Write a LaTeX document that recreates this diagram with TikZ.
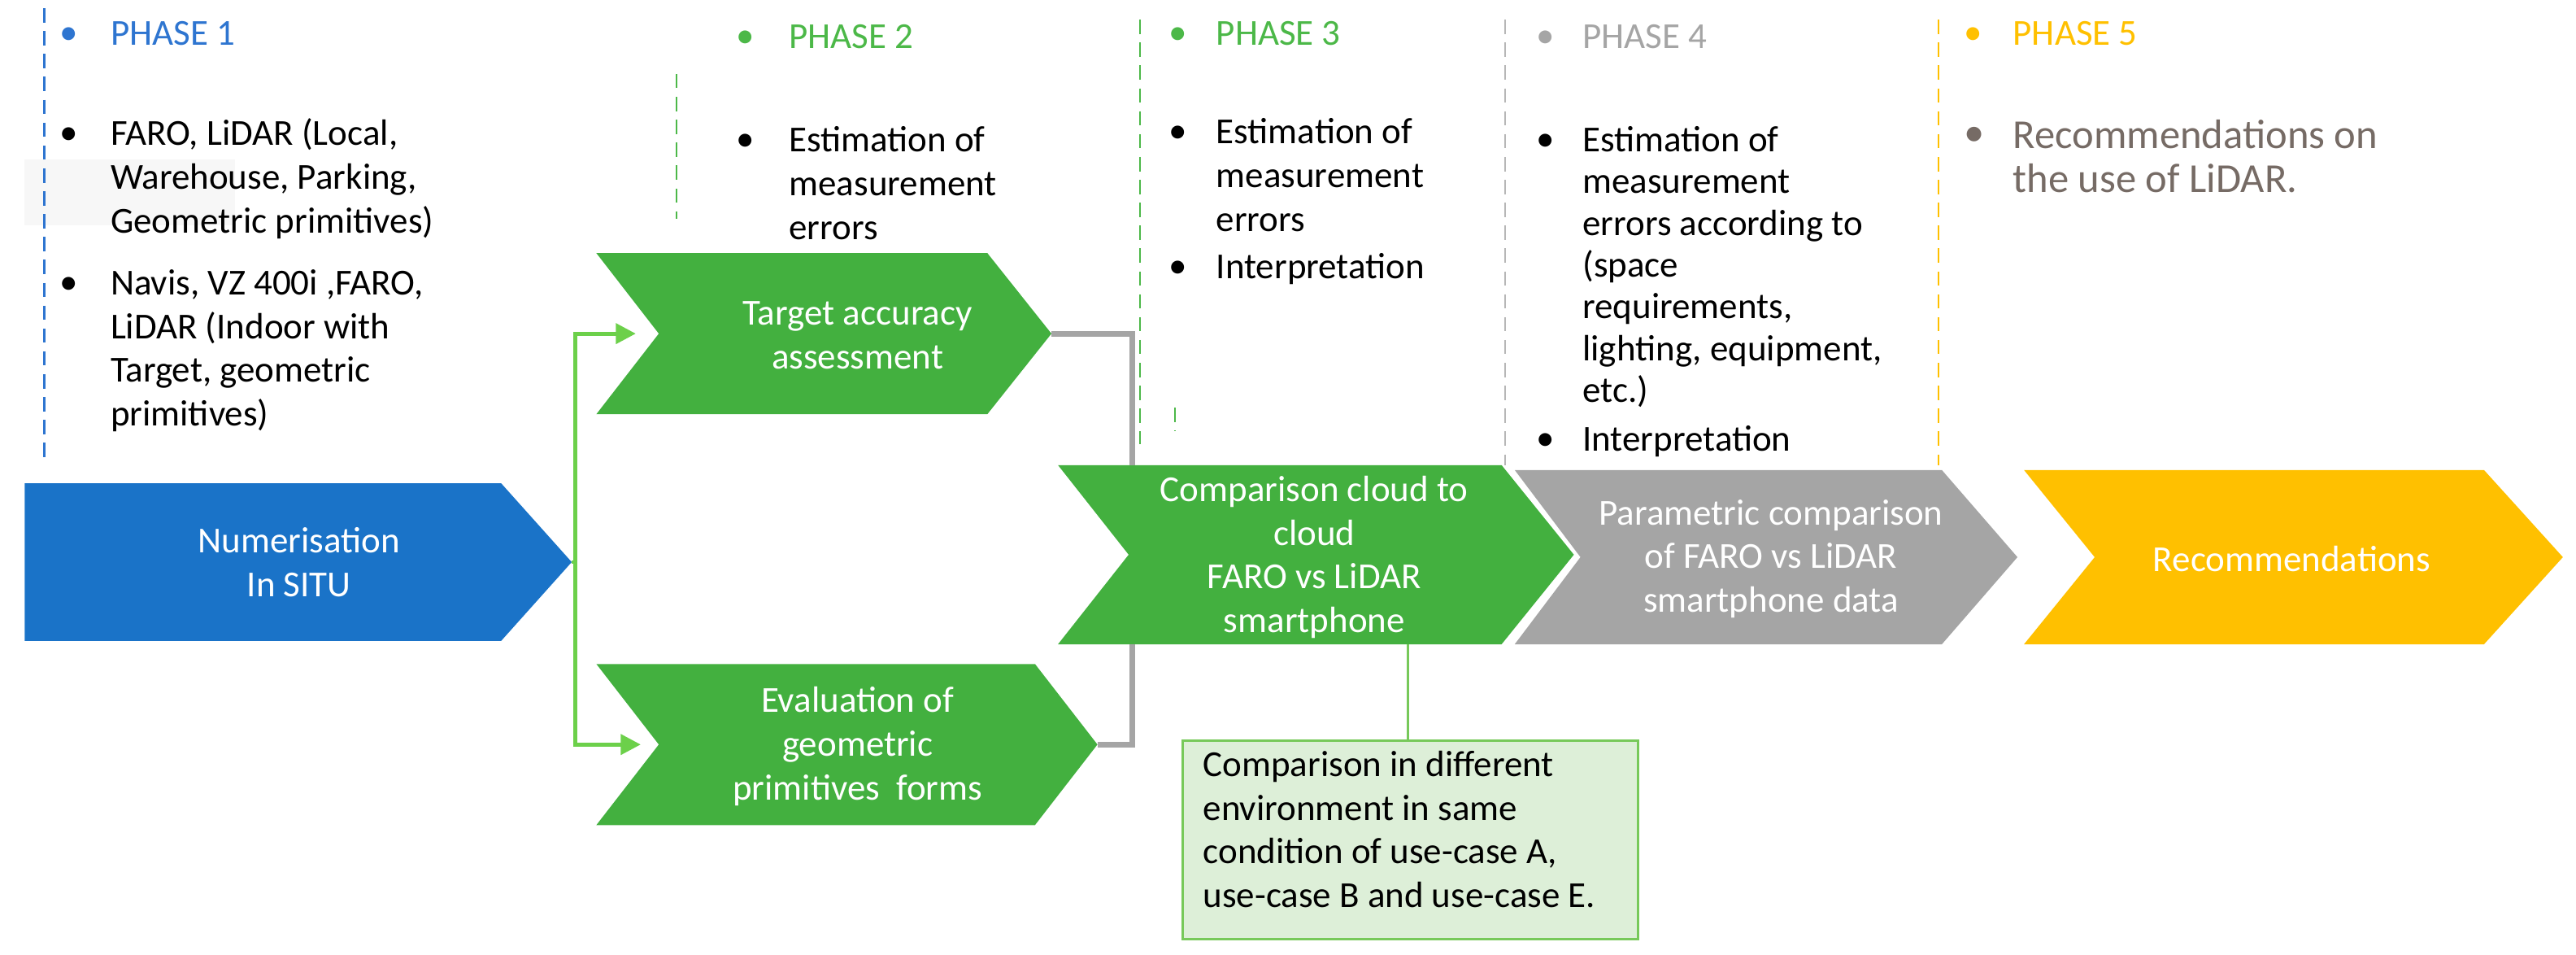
\documentclass[tikz,border=0pt]{standalone}
\usepackage{fontspec}
\setmainfont{Carlito}
\usetikzlibrary{arrows.meta}
\definecolor{cblue}{RGB}{26,115,200}
\definecolor{tblue}{RGB}{46,117,208}
\definecolor{cgreen}{RGB}{67,176,63}
\definecolor{tgreen}{RGB}{76,184,72}
\definecolor{agreen}{RGB}{108,208,74}
\definecolor{cgray}{RGB}{165,165,165}
\definecolor{cyellow}{RGB}{255,192,0}
\definecolor{bfill}{RGB}{221,239,216}
\definecolor{bline}{RGB}{119,201,90}
\definecolor{tbrown}{RGB}{118,107,101}
\newcommand{\fst}{\rule{0pt}{9.5pt}}
\tikzset{
  txt/.style={font=\fontsize{12.8}{15.3}\selectfont, inner sep=0pt, align=left, anchor=north west, yshift=9.5pt},
  bul/.style={font=\fontsize{12.8}{15.3}\selectfont, inner sep=0pt, anchor=base west},
  ctxt/.style={font=\fontsize{12.8}{15.3}\selectfont, inner sep=0pt, align=center, text=white},
  phdash/.style={dash pattern=on 5pt off 3pt, line width=0.6pt},
}
\newcommand{\mychev}[8]{% name, left, notch, right, tip, top, bot, color
  \fill[#8] (#2,#6) -- (#4,#6) -- (#5,{(#6+#7)/2}) -- (#4,#7) -- (#2,#7) -- (#3,{(#6+#7)/2}) -- cycle;
  \coordinate (#1-tip) at (#5,{(#6+#7)/2});
  \coordinate (#1-notch) at (#3,{(#6+#7)/2});
}
\begin{document}
\begin{tikzpicture}[x=0.0202cm,y=-0.0202cm]
\useasboundingbox (0,0) rectangle (1568,581);
\fill[gray!6] (15,97) rectangle (143,137);
% dashed phase lines
\draw[phdash,tblue] (27,5) -- (27,280);
\draw[phdash,tgreen] (412,45) -- (412,133);
\draw[phdash,tgreen] (694,12) -- (694,270);
\draw[phdash,tgreen] (715,248) -- (715,262);
\draw[phdash,cgray!80] (916,12) -- (916,283);
\draw[phdash,cyellow] (1180,12) -- (1180,283);
% phase headings
\node[bul,tblue] (b1) at (36,27) {•};
\node[txt,tblue] (p1) at (67,27) {\fst PHASE 1};
\node[bul,tgreen] (b2) at (448,29) {•};
\node[txt,tgreen] (p2) at (480,29) {\fst PHASE 2};
\node[bul,tgreen] (b3) at (711,27) {•};
\node[txt,tgreen] (p3) at (740,27) {\fst PHASE 3};
\node[bul,cgray] (b4) at (935,29) {•};
\node[txt,cgray] (p4) at (963,29) {\fst PHASE 4};
\node[bul,cyellow] (b5) at (1195,27) {•};
\node[txt,cyellow] (p5) at (1225,27) {\fst PHASE 5};
% phase 1 bullets
\node[bul] at (36,88) {•};
\node[txt] (t1a) at (67,88) {\fst FARO, LiDAR (Local,\\Warehouse, Parking,\\Geometric primitives)};
\node[bul] at (36,179) {•};
\node[txt] (t1b) at (67,179) {\fst Navis, VZ 400i ,FARO,\\LiDAR (Indoor with\\Target, geometric\\primitives)};
% phase 2
\node[bul] at (448,92) {•};
\node[txt] (t2) at (480,92) {\fst Estimation of\\measurement\\errors};
% phase 3
\node[bul] at (711,87) {•};
\node[txt] (t3a) at (740,87) {\fst Estimation of\\measurement\\errors};
\node[bul] at (711,169) {•};
\node[txt] (t3b) at (740,169) {\fst Interpretation};
% phase 4
\node[bul] at (935,92) {•};
\node[txt,font=\fontsize{12.8}{14.6}\selectfont] (t4a) at (963,92) {\fst Estimation of\\measurement\\errors according to\\(space\\requirements,\\lighting, equipment,\\etc.)};
\node[bul] at (935,274) {•};
\node[txt] (t4b) at (963,274) {\fst Interpretation};
% phase 5
\node[bul,tbrown,font=\fontsize{14.4}{16.5}\selectfont] at (1195,89) {•};
\node[txt,tbrown,font=\fontsize{14.4}{15.5}\selectfont] (t5) at (1225,89) {\fst Recommendations on\\the use of LiDAR.};
% chevrons
\fill[cblue] (15,294) -- (305,294) -- (348,342) -- (305,390) -- (15,390) -- cycle;
\coordinate (num-tip) at (348,342);
\node[ctxt] (num) at (182,342) {Numerisation\\In SITU};
\mychev{tar}{363}{401}{601}{640}{154}{252}{cgreen}
\node[ctxt] (tarT) at (522,204) {Target accuracy\\assessment};
\mychev{eva}{363}{401}{630}{668}{404}{502}{cgreen}
\node[ctxt] (evaT) at (522,454) {Evaluation of\\geometric\\primitives\ \ forms};
\mychev{cmp}{644}{687}{914}{958}{283}{392}{cgreen}
\node[ctxt] (cmpT) at (800,339) {Comparison cloud to\\cloud\\FARO vs LiDAR\\smartphone};
\mychev{par}{922}{962}{1182}{1228}{286}{392}{cgray}
\node[ctxt] (parT) at (1078,340) {Parametric comparison\\of FARO vs LiDAR\\smartphone data};
\mychev{rec}{1232}{1275}{1512}{1560}{286}{392}{cyellow}
\node[ctxt] (recT) at (1395,340) {Recommendations};
% green arrows
\coordinate (split) at (350,342);
\draw[agreen,line width=1.4pt] (num-tip) -- (split);
\draw[agreen,line width=1.4pt,-{Triangle[length=7pt,width=7pt]}] (split) |- (387,203);
\draw[agreen,line width=1.4pt,-{Triangle[length=7pt,width=7pt]}] (split) |- (390,453);
% gray connectors
\coordinate (gtop) at (689,283);
\coordinate (gbot) at (689,392);
\draw[cgray,line width=2pt] (tar-tip) -- (689,203) -- (gtop);
\draw[cgray,line width=2pt] (eva-tip) -- (689,453) -- (gbot);
% box
\node[draw=bline,fill=bfill,line width=0.8pt,anchor=north west,inner sep=0pt,minimum width=5.6cm,minimum height=2.44cm] (box) at (719,450) {};
\node[txt] (boxT) at (732,472) {\fst Comparison in different\\environment in same\\condition of use-case A,\\use-case B and use-case E.};
\coordinate (cmpb) at (857,392);
\draw[bline,line width=0.8pt] (cmpb) -- (box.north -| cmpb);
\end{tikzpicture}
\end{document}
